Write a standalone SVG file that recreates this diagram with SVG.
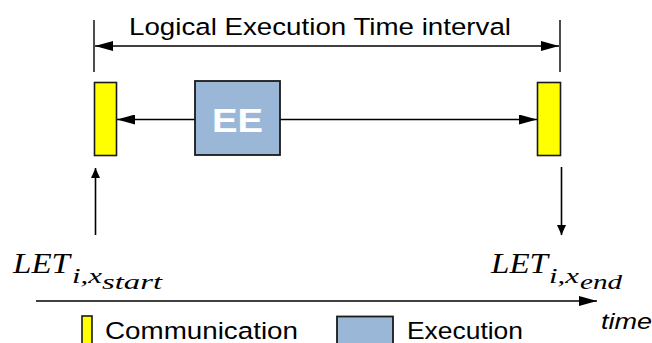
<svg xmlns="http://www.w3.org/2000/svg" width="652" height="343" viewBox="0 0 652 343">
<style>
.ln{stroke:#000;stroke-width:1.6;fill:none}
.tick{stroke:#000;stroke-width:1.4}
.comm{fill:#FFFF00;stroke:#1a1a1a;stroke-width:1.6}
.exec{fill:#9BB7D7;stroke:#1a1a1a;stroke-width:1.8}
.sans{font-family:"Liberation Sans",Arial,sans-serif;fill:#000}
.math{font-family:"Liberation Serif","Times New Roman",serif;font-style:italic;fill:#000}
</style>
<defs>
<marker id="ah" markerUnits="userSpaceOnUse" markerWidth="18" markerHeight="10" refX="18" refY="5" orient="auto-start-reverse">
<path d="M0,0 L18,5 L0,10 z" fill="#000"/>
</marker>
<marker id="as" markerUnits="userSpaceOnUse" markerWidth="10" markerHeight="10" refX="10" refY="5" orient="auto">
<path d="M0,0.5 L10,5 L0,9.5 z" fill="#000"/>
</marker>
</defs>

<g id="interval">
<line class="tick" x1="94" y1="20" x2="94" y2="72"/>
<line class="tick" x1="560" y1="20" x2="560" y2="72"/>
<text class="sans" x="129" y="35" font-size="24.5" textLength="382" lengthAdjust="spacingAndGlyphs">Logical Execution  Time interval</text>
</g>

<g id="connectors">
<line class="ln" x1="95" y1="46" x2="559" y2="46" marker-start="url(#ah)" marker-end="url(#ah)"/>
<line class="ln" x1="195" y1="119.5" x2="117" y2="119.5" marker-end="url(#ah)"/>
<line class="ln" x1="280" y1="119.5" x2="537" y2="119.5" marker-end="url(#ah)"/>
<line class="ln" x1="95.5" y1="235" x2="95.5" y2="168" marker-end="url(#as)"/>
<line class="ln" x1="561.5" y1="167" x2="561.5" y2="235" marker-end="url(#as)"/>
<line class="ln" x1="36" y1="301" x2="597" y2="301" marker-end="url(#ah)"/>
</g>

<g id="comm-start">
<rect class="comm" x="94.5" y="82.5" width="22" height="73"/>
</g>
<g id="exec-ee">
<rect class="exec" x="195" y="81" width="85" height="74"/>
<text x="237.5" y="131.5" text-anchor="middle" font-family="Liberation Sans,Arial,sans-serif" font-weight="bold" font-size="34" fill="#fff" textLength="51" lengthAdjust="spacingAndGlyphs">EE</text>
</g>
<g id="comm-end">
<rect class="comm" x="537.5" y="82.5" width="23" height="73"/>
</g>

<g id="let-start">
<text class="math" x="13" y="273" font-size="30" textLength="57" lengthAdjust="spacingAndGlyphs">LET</text>
<text class="math" x="72" y="283" font-size="21" textLength="30" lengthAdjust="spacingAndGlyphs">i,x</text>
<text class="math" x="102" y="289" font-size="20" textLength="60" lengthAdjust="spacingAndGlyphs">start</text>
</g>
<g id="let-end">
<text class="math" x="491" y="273" font-size="30" textLength="57" lengthAdjust="spacingAndGlyphs">LET</text>
<text class="math" x="549" y="283" font-size="21" textLength="30" lengthAdjust="spacingAndGlyphs">i,x</text>
<text class="math" x="580" y="289" font-size="20" textLength="42" lengthAdjust="spacingAndGlyphs">end</text>
</g>

<g id="time-label">
<text class="sans" x="601" y="329" font-size="22" font-style="italic" textLength="51" lengthAdjust="spacingAndGlyphs">time</text>
</g>

<g id="legend">
<rect class="comm" x="82" y="316" width="10" height="30"/>
<text class="sans" x="105" y="339" font-size="24.5" textLength="193" lengthAdjust="spacingAndGlyphs">Communication</text>
<rect class="exec" x="337" y="316.5" width="56" height="30"/>
<text class="sans" x="407" y="339" font-size="24.5" textLength="116" lengthAdjust="spacingAndGlyphs">Execution</text>
</g>
</svg>
